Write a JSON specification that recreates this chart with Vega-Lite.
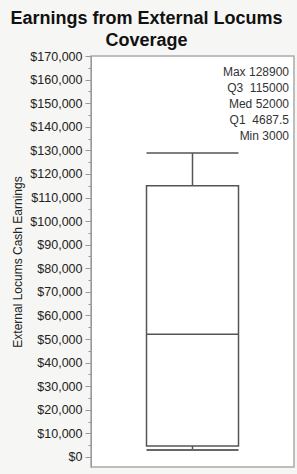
{
  "$schema": "https://vega.github.io/schema/vega-lite/v6.json",
  "width": 203,
  "height": 411,
  "autosize": {"type": "none"},
  "padding": {"left": 91, "top": 56, "right": 3, "bottom": 7},
  "background": "#f6f6f4",
  "title": {
    "text": ["Earnings from External Locums", "Coverage"],
    "fontSize": 18,
    "fontWeight": "bold",
    "font": "Liberation Sans",
    "color": "#111",
    "anchor": "middle",
    "frame": "group",
    "dx": -46,
    "offset": 0,
    "lineHeight": 22
  },
  "datasets": {
    "stats": [
      {"stat": "Max", "value": 128900, "label": "Max 128900", "rank": 1},
      {"stat": "Q3", "value": 115000, "label": "Q3\u00a0 115000", "rank": 2},
      {"stat": "Med", "value": 52000, "label": "Med 52000", "rank": 3},
      {"stat": "Q1", "value": 4687.5, "label": "Q1\u00a0 4687.5", "rank": 4},
      {"stat": "Min", "value": 3000, "label": "Min 3000", "rank": 5}
    ]
  },
  "layer": [
    {
      "data": {"name": "stats"},
      "transform": [{"pivot": "stat", "value": "value"}],
      "layer": [
        {
          "mark": {"type": "rule", "color": "#555", "strokeWidth": 1.5},
          "encoding": {
            "x": {"datum": "all", "type": "nominal", "axis": null},
            "y": {
              "field": "Min",
              "type": "quantitative",
              "scale": {"domain": [-4240, 170000], "nice": false, "zero": false},
              "axis": {
                "title": "External Locums Cash Earnings",
                "tickCount": 34,
                "labelExpr": "datum.value % 10000 == 0 ? format(datum.value, '$,.0f') : ''",
                "labelOverlap": false,
                "labelFlush": false,
                "labelBound": false,
                "tickSize": {"condition": {"test": "datum.value % 10000 != 0", "value": 3}, "value": 6},
                "grid": false,
                "domainColor": "#999",
                "tickColor": "#999",
                "labelColor": "#222",
                "labelFontSize": 12.5,
                "labelFont": "Liberation Sans",
                "labelPadding": 3,
                "titleFont": "Liberation Sans",
                "titleFontSize": 12,
                "titleFontWeight": "normal",
                "titleColor": "#222",
                "titlePadding": 5
              }
            },
            "y2": {"field": "Max"}
          }
        },
        {
          "mark": {"type": "bar", "size": 92, "fill": "white", "stroke": "#555", "strokeWidth": 1.5},
          "encoding": {
            "x": {"datum": "all", "type": "nominal", "axis": null},
            "y": {"field": "Q1", "type": "quantitative"},
            "y2": {"field": "Q3"}
          }
        },
        {
          "mark": {"type": "tick", "size": 92, "thickness": 1.5, "color": "#555", "opacity": 1},
          "encoding": {
            "x": {"datum": "all", "type": "nominal", "axis": null},
            "y": {"field": "Med", "type": "quantitative"}
          }
        },
        {
          "mark": {"type": "tick", "size": 92, "thickness": 1.5, "color": "#555", "opacity": 1},
          "encoding": {
            "x": {"datum": "all", "type": "nominal", "axis": null},
            "y": {"field": "Max", "type": "quantitative"}
          }
        },
        {
          "mark": {"type": "tick", "size": 92, "thickness": 2, "color": "#666", "opacity": 1},
          "encoding": {
            "x": {"datum": "all", "type": "nominal", "axis": null},
            "y": {"field": "Min", "type": "quantitative"}
          }
        }
      ]
    },
    {
      "data": {"name": "stats"},
      "mark": {"type": "text", "align": "right", "baseline": "middle", "dx": -5, "fontSize": 12, "font": "Liberation Sans", "color": "#333"},
      "encoding": {
        "x": {"datum": 1, "type": "quantitative", "scale": {"domain": [0, 1]}, "axis": null},
        "y": {"field": "rank", "type": "quantitative", "scale": {"domain": [0, 25.7], "reverse": true}, "axis": null},
        "text": {"field": "label"}
      }
    }
  ],
  "resolve": {"scale": {"x": "independent", "y": "independent"}},
  "config": {
    "view": {"fill": "white", "stroke": "#aaa", "strokeWidth": 1.5}
  }
}
